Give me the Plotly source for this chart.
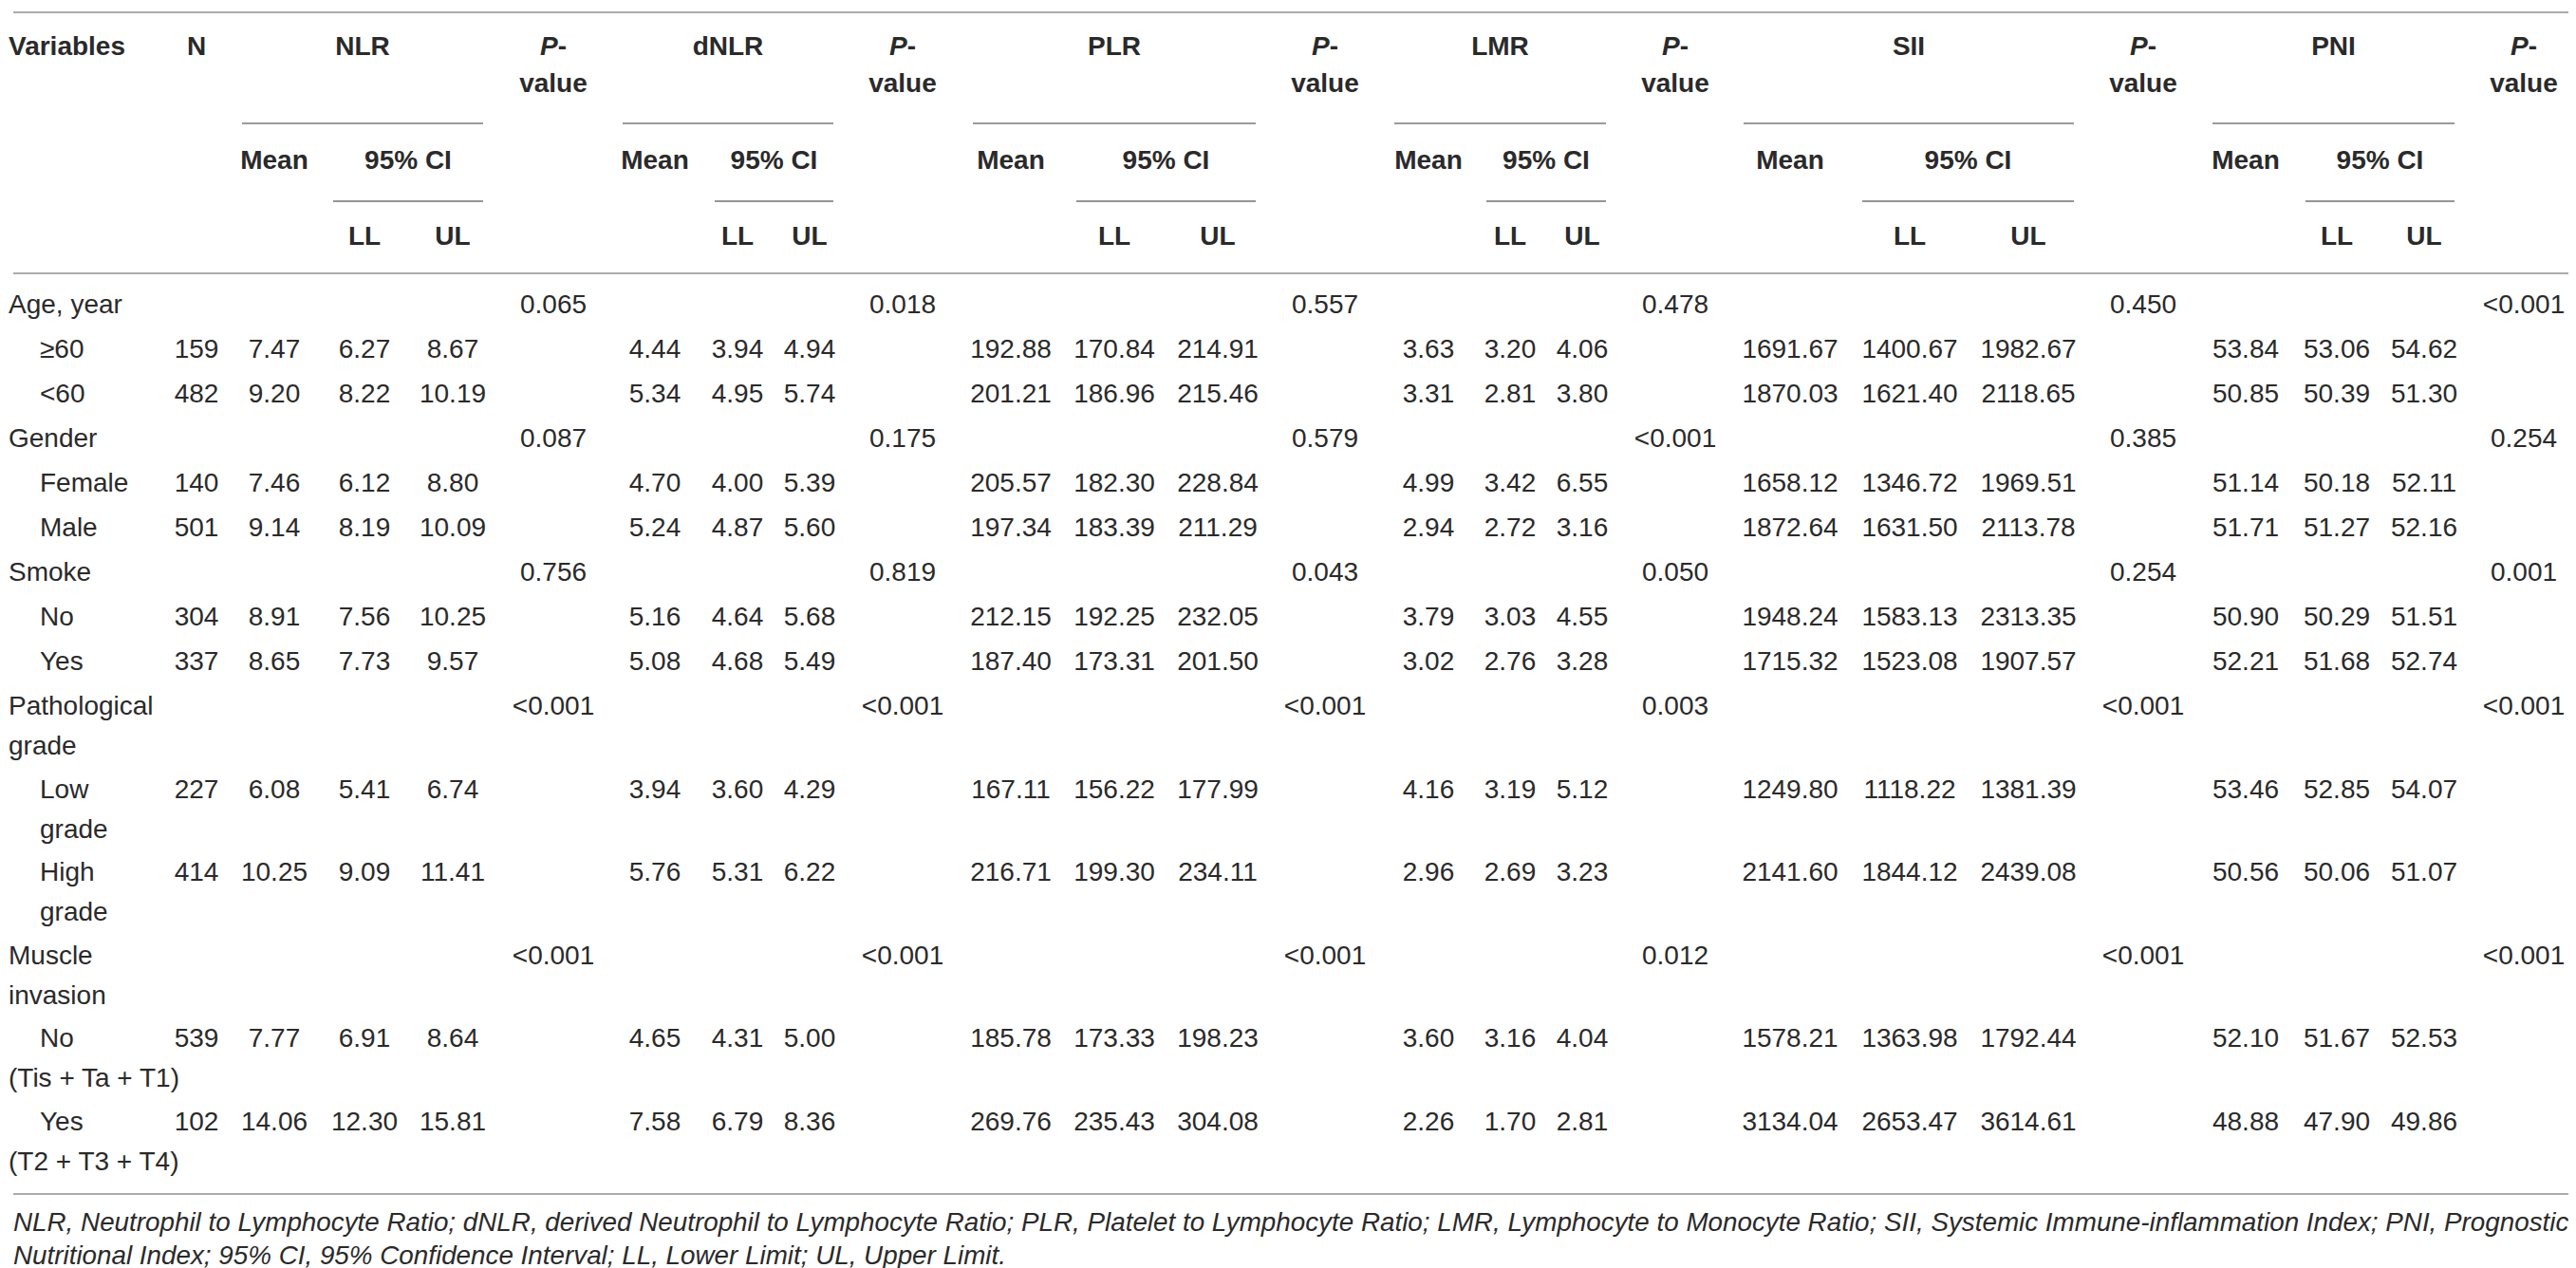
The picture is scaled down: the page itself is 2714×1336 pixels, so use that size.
import plotly.graph_objects as go

# ---- table data ---------------------------------------------------------
variables = ["Age, year", "Gender", "Smoke", "Pathological<br>grade", "Muscle<br>invasion"]
levels = [
    ["≥60", "<60"],
    ["Female", "Male"],
    ["No", "Yes"],
    ["Low<br>grade", "High<br>grade"],
    ["No<br>(Tis + Ta + T1)", "Yes<br>(T2 + T3 + T4)"],
]

n_counts = [159, 482, 140, 501, 304, 337, 227, 414, 539, 102]

nlr_mean = [7.47, 9.20, 7.46, 9.14, 8.91, 8.65, 6.08, 10.25, 7.77, 14.06]
nlr_ll = [6.27, 8.22, 6.12, 8.19, 7.56, 7.73, 5.41, 9.09, 6.91, 12.30]
nlr_ul = [8.67, 10.19, 8.80, 10.09, 10.25, 9.57, 6.74, 11.41, 8.64, 15.81]

dnlr_mean = [4.44, 5.34, 4.70, 5.24, 5.16, 5.08, 3.94, 5.76, 4.65, 7.58]
dnlr_ll = [3.94, 4.95, 4.00, 4.87, 4.64, 4.68, 3.60, 5.31, 4.31, 6.79]
dnlr_ul = [4.94, 5.74, 5.39, 5.60, 5.68, 5.49, 4.29, 6.22, 5.00, 8.36]

plr_mean = [192.88, 201.21, 205.57, 197.34, 212.15, 187.40, 167.11, 216.71, 185.78, 269.76]
plr_ll = [170.84, 186.96, 182.30, 183.39, 192.25, 173.31, 156.22, 199.30, 173.33, 235.43]
plr_ul = [214.91, 215.46, 228.84, 211.29, 232.05, 201.50, 177.99, 234.11, 198.23, 304.08]

lmr_mean = [3.63, 3.31, 4.99, 2.94, 3.79, 3.02, 4.16, 2.96, 3.60, 2.26]
lmr_ll = [3.20, 2.81, 3.42, 2.72, 3.03, 2.76, 3.19, 2.69, 3.16, 1.70]
lmr_ul = [4.06, 3.80, 6.55, 3.16, 4.55, 3.28, 5.12, 3.23, 4.04, 2.81]

sii_mean = [1691.67, 1870.03, 1658.12, 1872.64, 1948.24, 1715.32, 1249.80, 2141.60, 1578.21, 3134.04]
sii_ll = [1400.67, 1621.40, 1346.72, 1631.50, 1583.13, 1523.08, 1118.22, 1844.12, 1363.98, 2653.47]
sii_ul = [1982.67, 2118.65, 1969.51, 2113.78, 2313.35, 1907.57, 1381.39, 2439.08, 1792.44, 3614.61]

pni_mean = [53.84, 50.85, 51.14, 51.71, 50.90, 52.21, 53.46, 50.56, 52.10, 48.88]
pni_ll = [53.06, 50.39, 50.18, 51.27, 50.29, 51.68, 52.85, 50.06, 51.67, 47.90]
pni_ul = [54.62, 51.30, 52.11, 52.16, 51.51, 52.74, 54.07, 51.07, 52.53, 49.86]

p_nlr = ["0.065", "0.087", "0.756", "<0.001", "<0.001"]
p_dnlr = ["0.018", "0.175", "0.819", "<0.001", "<0.001"]
p_plr = ["0.557", "0.579", "0.043", "<0.001", "<0.001"]
p_lmr = ["0.478", "<0.001", "0.050", "0.003", "0.012"]
p_sii = ["0.450", "0.385", "0.254", "<0.001", "<0.001"]
p_pni = ["<0.001", "0.254", "0.001", "<0.001", "<0.001"]

indices = ["NLR", "dNLR", "PLR", "LMR", "SII", "PNI"]

footnote = ("NLR, Neutrophil to Lymphocyte Ratio; dNLR, derived Neutrophil to Lymphocyte Ratio; "
            "PLR, Platelet to Lymphocyte Ratio; LMR, Lymphocyte to Monocyte Ratio; "
            "SII, Systemic Immune-inflammation Index; PNI, Prognostic<br>"
            "Nutritional Index; 95% CI, 95% Confidence Interval; LL, Lower Limit; UL, Upper Limit.")

# ---- layout (pixel positions of the columns / rows) ---------------------
W, H = 2714, 1336
FONT = "Liberation Sans, Arial, Helvetica, sans-serif"
TXT = "#2a2a2a"
SIZE = 28

# scatter "middle right" text sits ~5px right of its point
x_label, x_indent = 1, 34
x_n = 199
# mean, LL, UL, p-value centres for every index
x_cols = {
    "NLR": (281, 376, 469, 575),
    "dNLR": (682, 769, 845, 943),
    "PLR": (1057, 1166, 1275, 1388),
    "LMR": (1497, 1583, 1659, 1757),
    "SII": (1878, 2004, 2129, 2250),
    "PNI": (2358, 2454, 2546, 2651),
}
# spanner line under the index name and under "95% CI"
span_lines = {
    "NLR": (247, 343, 501),
    "dNLR": (648, 745, 870),
    "PLR": (1017, 1126, 1315),
    "LMR": (1461, 1558, 1684),
    "SII": (1829, 1954, 2177),
    "PNI": (2323, 2421, 2578),
}
y_h1, y_h2, y_h3, y_h4 = 43, 82, 163, 243
y_rules = (5, 280, 1250)
y_span1, y_span2 = 122, 204
y_first, row_step, extra_line, line_pitch = 315, 47, 40.5, 42

fig = go.Figure()

cells = {"x": [], "y": [], "t": []}        # centred cells
left = {"x": [], "y": [], "t": []}         # left aligned labels


def put(store, x, y, text):
    store["x"].append(x)
    store["y"].append(y)
    store["t"].append(text)


def put_label(first_x, y, text, other_x=None):
    for k, part in enumerate(text.split("<br>")):
        xx = first_x if k == 0 or other_x is None else other_x
        put(left, xx, y + k * line_pitch, part)


# ---- header -------------------------------------------------------------
put(left, x_label, y_h1, "<b>Variables</b>")
put(cells, x_n, y_h1, "<b>N</b>")
for name in indices:
    m, ll, ul, p = x_cols[name]
    s0, s1, s2 = span_lines[name]
    put(cells, (s0 + s2) / 2, y_h1, "<b>%s</b>" % name)
    put(cells, p, y_h1, "<b><i>P</i>-</b>")
    put(cells, p, y_h2, "<b>value</b>")
    put(cells, m, y_h3, "<b>Mean</b>")
    put(cells, (s1 + s2) / 2, y_h3, "<b>95% CI</b>")
    put(cells, ll, y_h4, "<b>LL</b>")
    put(cells, ul, y_h4, "<b>UL</b>")

# ---- body ---------------------------------------------------------------
means = [nlr_mean, dnlr_mean, plr_mean, lmr_mean, sii_mean, pni_mean]
lls = [nlr_ll, dnlr_ll, plr_ll, lmr_ll, sii_ll, pni_ll]
uls = [nlr_ul, dnlr_ul, plr_ul, lmr_ul, sii_ul, pni_ul]
pvals = [p_nlr, p_dnlr, p_plr, p_lmr, p_sii, p_pni]

y = y_first
r = 0
for v, var in enumerate(variables):
    put_label(x_label, y, var)
    for j, name in enumerate(indices):
        put(cells, x_cols[name][3], y, pvals[j][v].replace("<", "&lt;"))
    y += row_step + extra_line * var.count("<br>")
    for lev in levels[v]:
        # "No/Yes" muscle-invasion details wrap back to the left edge
        wrap_x = x_label if lev.startswith(("No<br>", "Yes<br>")) else x_indent
        put_label(x_indent, y, lev.replace("<6", "&lt;6"), other_x=wrap_x)
        put(cells, x_n, y, str(n_counts[r]))
        for j, name in enumerate(indices):
            m, ll, ul, p = x_cols[name]
            put(cells, m, y, "%.2f" % means[j][r])
            put(cells, ll, y, "%.2f" % lls[j][r])
            put(cells, ul, y, "%.2f" % uls[j][r])
        y += row_step + extra_line * lev.count("<br>")
        r += 1

fig.add_trace(go.Scatter(x=cells["x"], y=cells["y"], text=cells["t"], mode="text",
                         textposition="middle center",
                         textfont=dict(family=FONT, size=SIZE, color=TXT),
                         hoverinfo="skip", showlegend=False))
fig.add_trace(go.Scatter(x=left["x"], y=left["y"], text=left["t"], mode="text",
                         textposition="middle right",
                         textfont=dict(family=FONT, size=SIZE, color=TXT),
                         hoverinfo="skip", showlegend=False))

# footnote
for k, part in enumerate(footnote.split("<br>")):
    fig.add_annotation(x=4, y=1279 + k * 35, xref="x", yref="y", text="<i>%s</i>" % part,
                       showarrow=False, xanchor="left", yanchor="middle",
                       font=dict(family=FONT, size=27.8, color=TXT))

# ---- rules --------------------------------------------------------------
for yy in y_rules:
    fig.add_shape(type="line", x0=6, x1=2709, y0=yy, y1=yy, xref="x", yref="y",
                  line=dict(color="#ababab", width=2.2))
for name in indices:
    s0, s1, s2 = span_lines[name]
    fig.add_shape(type="line", x0=s0, x1=s2, y0=y_span1, y1=y_span1, xref="x", yref="y",
                  line=dict(color="#7a7a7a", width=1.4))
    fig.add_shape(type="line", x0=s1, x1=s2, y0=y_span2, y1=y_span2, xref="x", yref="y",
                  line=dict(color="#959595", width=2))

fig.update_layout(
    width=W, height=H,
    margin=dict(l=0, r=0, t=0, b=0),
    paper_bgcolor="white", plot_bgcolor="white",
    xaxis=dict(range=[0, W], visible=False, fixedrange=True),
    yaxis=dict(range=[H, 0], visible=False, fixedrange=True),
)

fig.write_html("out.html")
